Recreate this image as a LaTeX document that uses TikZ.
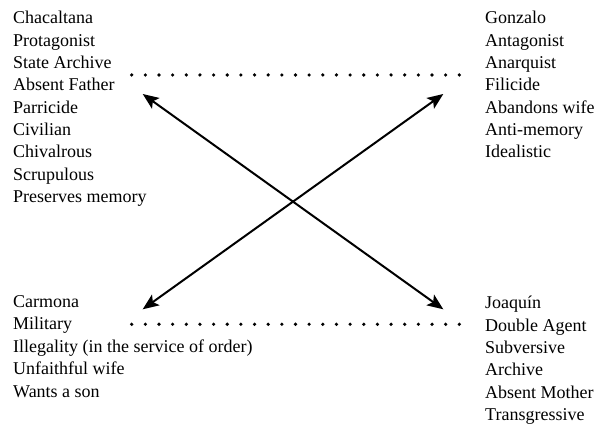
\documentclass[tikz,border=0pt]{standalone}
\usepackage{fontspec}
\setmainfont{Liberation Serif}
\usetikzlibrary{arrows.meta}
\tikzset{trait/.style={align=left, inner sep=0, anchor=north west, font=\fontsize{18}{22.35}\selectfont}}
\tikzset{dotline/.style={line width=3.6pt, line cap=round, dash pattern=on 0pt off 13.65pt}}

\begin{document}
\begin{tikzpicture}[x=1pt,y=1pt]
\useasboundingbox (0,0) rectangle (597,425);
% the four columns of traits
\node[trait] (chacaltana) at (13,414) {Chacaltana\\Protagonist\\State Archive\\Absent Father\\Parricide\\Civilian\\Chivalrous\\Scrupulous\\Preserves memory};
\node[trait] (gonzalo) at (485,414) {Gonzalo\\Antagonist\\Anarquist\\Filicide\\Abandons wife\\Anti-memory\\Idealistic};
\node[trait] (carmona) at (13,129.5) {Carmona\\Military\\Illegality (in the service of order)\\Unfaithful wife\\Wants a son};
\node[trait] (joaquin) at (485,129) {Joaquín\\Double Agent\\Subversive\\Archive\\Absent Mother\\Transgressive};
% dotted links
\coordinate (dotA) at (131.7,350);
\coordinate (dotB) at (459.3,350);
\coordinate (dotC) at (131.7,100.7);
\coordinate (dotD) at (459.3,100.7);
\draw[dotline] (dotA)--(dotB);
\draw[dotline] (dotC)--(dotD);
% crossing arrows
\coordinate (tipTL) at (142.7,331);
\coordinate (tipTR) at (443.3,331);
\coordinate (tipBL) at (142.7,115.7);
\coordinate (tipBR) at (443.3,115.7);
\draw[black, line width=2pt, <->, >={Stealth[length=16pt,width=13pt,inset=3.5pt]}] (tipTL)--(tipBR);
\draw[black, line width=2pt, <->, >={Stealth[length=16pt,width=13pt,inset=3.5pt]}] (tipTR)--(tipBL);
\end{tikzpicture}
\end{document}
